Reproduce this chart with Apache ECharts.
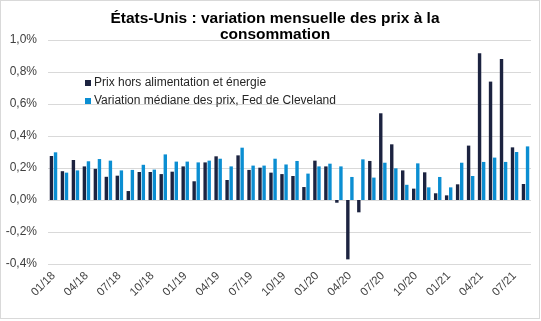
<!DOCTYPE html>
<html>
<head>
<meta charset="utf-8">
<script src="https://cdn.jsdelivr.net/npm/echarts@6/dist/echarts.min.js"></script>
<style>
html,body{margin:0;padding:0;background:#fff;}
#wrap{position:relative;width:541px;height:321px;}
#chart{position:absolute;left:0;top:0;width:541px;height:321px;}
#frame{position:absolute;left:0;top:0;width:540px;height:319px;box-sizing:border-box;border:1px solid #d9d9d9;pointer-events:none;}
</style>
</head>
<body>
<div id="wrap"><div id="chart"></div><div id="frame"></div></div>
<script>
const categories = ["01/18","02/18","03/18","04/18","05/18","06/18","07/18","08/18","09/18","10/18","11/18","12/18",
"01/19","02/19","03/19","04/19","05/19","06/19","07/19","08/19","09/19","10/19","11/19","12/19",
"01/20","02/20","03/20","04/20","05/20","06/20","07/20","08/20","09/20","10/20","11/20","12/20",
"01/21","02/21","03/21","04/21","05/21","06/21","07/21","08/21"];

const corePrices = [0.275,0.18,0.25,0.21,0.195,0.145,0.152,0.056,0.175,0.175,0.162,0.177,
0.21,0.117,0.235,0.273,0.125,0.279,0.188,0.202,0.171,0.162,0.15,0.081,
0.246,0.21,-0.017,-0.371,-0.077,0.244,0.542,0.348,0.185,0.071,0.173,0.042,
0.029,0.098,0.34,0.917,0.74,0.881,0.329,0.10];

const medianCpi = [0.298,0.171,0.185,0.242,0.256,0.246,0.185,0.188,0.22,0.19,0.285,0.24,
0.24,0.235,0.246,0.258,0.21,0.327,0.215,0.215,0.258,0.222,0.244,0.165,
0.21,0.227,0.21,0.144,0.254,0.14,0.233,0.198,0.095,0.229,0.079,0.144,
0.079,0.233,0.15,0.238,0.265,0.238,0.30,0.335];

const seriesNames = ["Prix hors alimentation et énergie","Variation médiane des prix, Fed de Cleveland"];
const titleText = "États-Unis : variation mensuelle des prix à la\nconsommation";

const FONT = "'Liberation Sans', Arial, sans-serif";
const chart = echarts.init(document.getElementById('chart'), null, {renderer:'canvas'});
chart.setOption({
  animation:false,
  title:{
    text:titleText, left:270, textAlign:'center', top:6,
    textStyle:{fontFamily:FONT,fontSize:15.5,fontWeight:'bold',color:'#000',lineHeight:16}
  },
  legend:{
    orient:'vertical', left:80, top:72, itemWidth:6, itemHeight:6, itemGap:6,
    icon:'rect',
    textStyle:{fontFamily:FONT,fontSize:12,color:'#262626',padding:[0,0,0,-2]},
    data:seriesNames
  },
  grid:{left:48,right:10,top:40,bottom:57,containLabel:false},
  xAxis:{
    type:'category', data:categories,
    axisLine:{show:false,onZero:false}, axisTick:{show:false},
    axisLabel:{rotate:45, interval:2, margin:10, fontFamily:FONT, fontSize:11.5, color:'#404040'},
    splitLine:{show:false}
  },
  yAxis:{
    type:'value', min:-0.4, max:1.0, interval:0.2,
    axisLine:{show:false}, axisTick:{show:false},
    axisLabel:{fontFamily:FONT,fontSize:12,color:'#404040',margin:11,
      formatter:v=>v.toFixed(1).replace('.',',')+'%'},
    splitLine:{lineStyle:{color:'#d9d9d9',width:1}}
  },
  series:[
    {name:seriesNames[0],type:'bar',data:corePrices,barWidth:3.4,barGap:'20%',
     itemStyle:{color:'#1c2340'}},
    {name:seriesNames[1],type:'bar',data:medianCpi,barWidth:3.4,barGap:'20%',
     itemStyle:{color:'#0b8ed2'}}
  ]
});
</script>
</body>
</html>
